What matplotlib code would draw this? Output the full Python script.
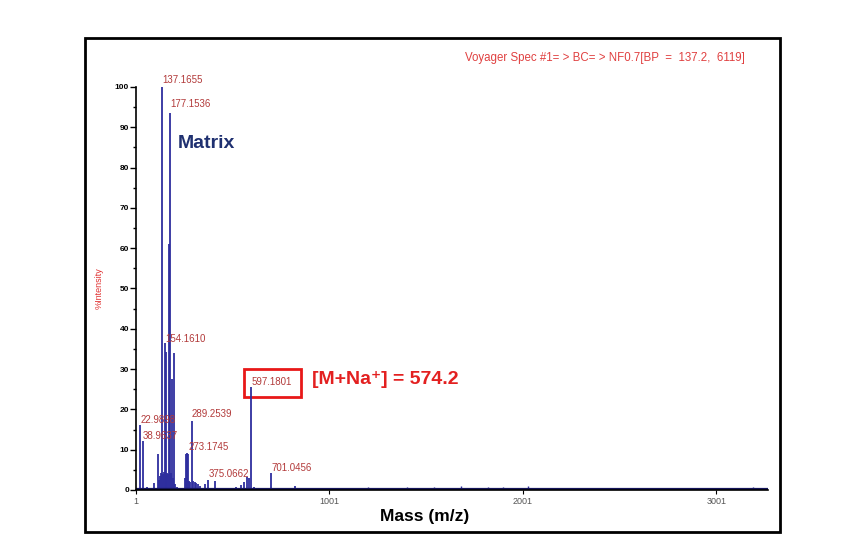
import numpy as np
import matplotlib.pyplot as plt
from matplotlib.patches import Rectangle
from matplotlib.ticker import MultipleLocator

plt.rcParams['font.family'] = ['Liberation Sans', 'DejaVu Sans']

# peak list (m/z, % intensity)
mass = [23, 39, 60, 75, 95, 117, 122, 127, 131, 137, 143, 146, 150, 155, 159, 163,
        167, 171, 177, 183, 189, 193, 199, 205, 212, 256, 262, 266, 270, 276, 282,
        289, 296, 305, 312, 320, 335, 360, 372, 410, 450, 480, 520, 545, 560, 575,
        585, 597, 612, 650, 701, 760, 825, 900, 960]
intensity = [16.0, 12.2, 0.8, 0.6, 1.8, 8.9, 2.5, 3.5, 4.2, 100.0, 4.0, 4.5, 36.4, 3.8,
             34.3, 4.2, 3.9, 61.0, 93.5, 4.2, 27.6, 3.0, 33.9, 1.5, 0.8, 3.0, 9.0,
             9.2, 9.0, 2.2, 2.0, 17.2, 2.3, 2.0, 1.8, 1.5, 1.0, 1.5, 2.5, 2.2, 0.6,
             0.5, 0.8, 1.2, 2.0, 3.2, 3.0, 25.5, 0.8, 0.5, 4.1, 0.5, 0.9, 0.4, 0.5]

# low-level noise over the high-mass range
noise_mass = [1050, 1120, 1200, 1260, 1330, 1400, 1470, 1540, 1600, 1680, 1750, 1820,
              1900, 1960, 2030, 2100, 2180, 2250, 2320, 2400, 2470, 2540, 2620, 2700,
              2760, 2830, 2900, 2980, 3050, 3120, 3190, 3240]
noise_int = [0.5, 0.4, 0.7, 0.5, 0.6, 0.8, 0.6, 0.7, 0.5, 0.9, 0.6, 0.8, 0.7, 0.5,
             0.9, 0.6, 0.5, 0.4, 0.6, 0.5, 0.4, 0.6, 0.5, 0.4, 0.5, 0.6, 0.4, 0.5,
             0.6, 0.5, 0.7, 0.5]

labels = ['137.1655', '177.1536', '154.1610', '22.9898', '38.9637', '289.2539',
          '273.1745', '375.0662', '597.1801', '701.0456']
label_y = [101.7, 95.8, 37.4, 17.4, 13.5, 18.9, 10.6, 3.9, 26.7, 5.5]

fig = plt.figure(figsize=(8.49, 5.42), dpi=100)
ax = fig.add_axes([0.160, 0.096, 0.745, 0.7435])

blue = '#2e2e9e'
ax.vlines(mass, 0, intensity, color=blue, lw=1.3)
ax.vlines(noise_mass, 0, noise_int, color=blue, lw=1.0)
ax.axhline(0.25, color='#14145a', lw=1.6)

for t, y in zip(labels, label_y):
    ax.text(float(t), y, t, color='#b23a3a', fontsize=7, ha='left', va='center',
            clip_on=False)

ax.text(218, 85.9, 'Matrix', color='#1f3070', fontsize=14, fontweight='bold',
        ha='left', va='center')
ax.text(910, 27.3, '[M+Na\u207a] = 574.2', color='#e32020', fontsize=14,
        fontweight='bold', ha='left', va='center')
ax.add_patch(Rectangle((560, 23.1), 295, 6.9, fill=False, ec='#e81818', lw=2,
                       clip_on=False))

ax.set_xlim(1, 3270)
ax.set_ylim(0, 100)
ax.set_xticks([1, 1001, 2001, 3001])
ax.yaxis.set_major_locator(MultipleLocator(10))
ax.yaxis.set_minor_locator(MultipleLocator(5))
ax.tick_params(axis='y', which='major', length=4, width=1, labelsize=6, pad=1)
ax.tick_params(axis='y', which='minor', length=2, width=1)
ax.tick_params(axis='x', length=3, labelsize=6.5, labelcolor='#555555', pad=2)
for lab in ax.get_yticklabels():
    lab.set_fontweight('bold')
for s in ['top', 'right']:
    ax.spines[s].set_visible(False)
ax.spines['left'].set_linewidth(1.2)
ax.spines['bottom'].set_linewidth(1.2)

ax.set_ylabel('%Intensity', color='#e03030', fontsize=6.5, labelpad=8)
fig.text(425 / 849, 1 - 516 / 542, 'Mass (m/z)', fontsize=12.5, fontweight='bold',
         ha='center', va='center')
fig.text(745 / 849, 1 - 58 / 542, 'Voyager Spec #1= > BC= > NF0.7[BP  =  137.2,  6119]',
         color='#e04040', fontsize=8.3, ha='right', va='center')

fig.patches.append(Rectangle((85 / 849, 1 - 532 / 542), 695 / 849, 494 / 542,
                             transform=fig.transFigure, fill=False, ec='black',
                             lw=2))

fig.savefig('out.png', dpi=100)
